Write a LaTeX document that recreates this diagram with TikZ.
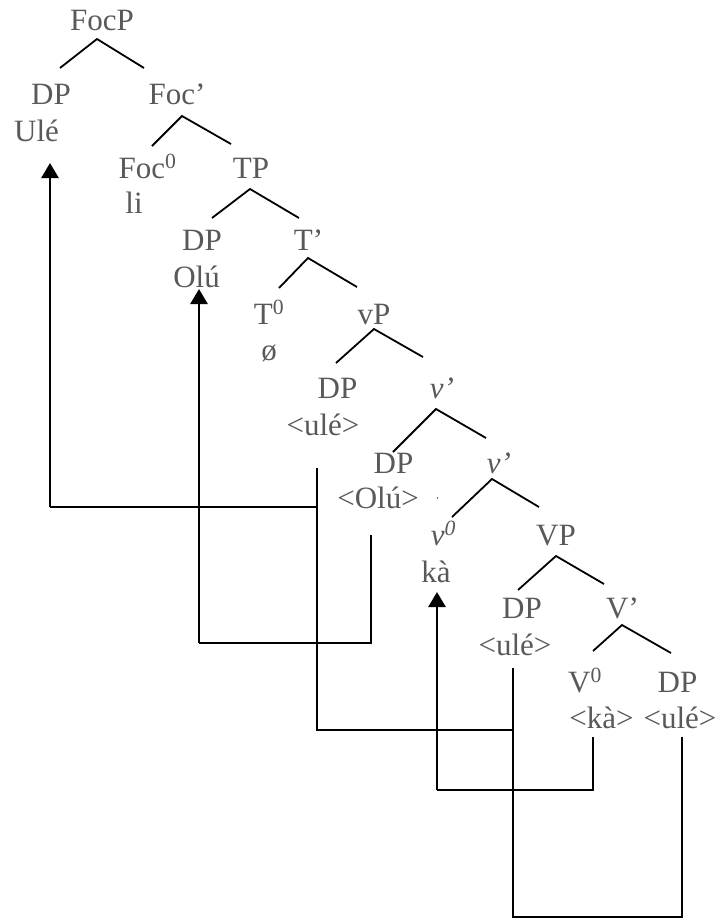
\documentclass[tikz,border=0pt]{standalone}
\usepackage{fontspec}
\setmainfont{Liberation Serif}
\usetikzlibrary{arrows.meta}
\definecolor{txtgray}{HTML}{595959}
\begin{document}
\begin{tikzpicture}[x=1pt,y=-1pt,
  lbl/.style={anchor=base,inner sep=0pt,text=txtgray,font=\fontsize{31}{36}\selectfont},
  branch/.style={draw=black,line width=1.8pt},
  chain/.style={draw=black,line width=1.9pt},
  movearrow/.style={draw=black,line width=2.6pt,-{Triangle[width=17pt,length=15pt]}}]
\useasboundingbox (0,0) rectangle (719,919);
% labels
\node[lbl] (FocP) at (102,30) {FocP};
\node[lbl] (DPa) at (51,104) {DP};
\node[lbl] (Ule) at (36.5,141) {Ulé};
\node[lbl] (Focbar) at (177,104) {Foc’};
\node[lbl] (Foczero) at (147.5,178) {Foc\textsuperscript{0}};
\node[lbl] (li) at (134,213) {li};
\node[lbl] (TP) at (251,178) {TP};
\node[lbl] (DPb) at (202,250) {DP};
\node[lbl] (Olu) at (196.5,287) {Olú};
\node[lbl] (Tbar) at (308.5,250) {T’};
\node[lbl] (Tzero) at (269,324) {T\textsuperscript{0}};
\node[lbl] (null) at (269,360) {ø};
\node[lbl] (vP) at (374,324) {vP};
\node[lbl] (DPc) at (337.5,398) {DP};
\node[lbl] (uleA) at (323,435) {<ulé>};
\node[lbl] (vbarA) at (442,398) {\textit{v’}};
\node[lbl] (DPd) at (393.5,473) {DP};
\node[lbl] (OluB) at (378,508) {<Olú>};
\node[lbl] (vbarB) at (499,473) {\textit{v’}};
\node[lbl] (vzero) at (443.5,545) {\textit{v}\textsuperscript{\textit{0}}};
\node[lbl] (ka) at (436,582) {kà};
\node[lbl] (VP) at (556,545) {VP};
\node[lbl] (DPe) at (522,618) {DP};
\node[lbl] (uleB) at (515,655) {<ulé>};
\node[lbl] (Vbar) at (622.5,618) {V’};
\node[lbl] (Vzero) at (585,692) {V\textsuperscript{0}};
\node[lbl] (DPf) at (677.5,692) {DP};
\node[lbl] (kaB) at (601.5,728) {<kà>};
\node[lbl] (uleC) at (680,728) {<ulé>};
% branch end points
\coordinate (FocP-t) at (97,39);   \coordinate (FocP-l) at (60,68);   \coordinate (FocP-r) at (144,68);
\coordinate (Focbar-t) at (182,116); \coordinate (Focbar-l) at (152,146); \coordinate (Focbar-r) at (231,144);
\coordinate (TP-t) at (250,189);   \coordinate (TP-l) at (212,218);   \coordinate (TP-r) at (299,218);
\coordinate (Tbar-t) at (308,258); \coordinate (Tbar-l) at (279,288); \coordinate (Tbar-r) at (357,287);
\coordinate (vP-t) at (374,329);   \coordinate (vP-l) at (336,363);   \coordinate (vP-r) at (423,357);
\coordinate (vbarA-t) at (436,409); \coordinate (vbarA-l) at (393,452); \coordinate (vbarA-r) at (486,438);
\coordinate (vbarB-t) at (492,479); \coordinate (vbarB-l) at (452,517); \coordinate (vbarB-r) at (539,507);
\coordinate (VP-t) at (556,556);   \coordinate (VP-l) at (518,590);   \coordinate (VP-r) at (604,584);
\coordinate (Vbar-t) at (622,625); \coordinate (Vbar-l) at (593,651); \coordinate (Vbar-r) at (671,653);
\foreach \n in {FocP,Focbar,TP,Tbar,vP,vbarA,vbarB,VP,Vbar}{
  \draw[branch] (\n-l) -- (\n-t) -- (\n-r);
}
% movement chain coordinates
\coordinate (uleA-d) at (317,468);
\coordinate (uleA-j) at (317,507);
\coordinate (uleA-b) at (317,730);
\coordinate (Ule-j) at (50,507);
\coordinate (Ule-u) at (50,163);
\coordinate (uleB-d) at (513,668);
\coordinate (uleB-j) at (513,730);
\coordinate (uleB-b) at (513,917);
\coordinate (uleC-d) at (682,737);
\coordinate (uleC-b) at (682,917);
\coordinate (OluB-d) at (371,535);
\coordinate (OluB-b) at (371,643);
\coordinate (Olu-j) at (199,643);
\coordinate (Olu-u) at (199,289);
\coordinate (kaB-d) at (593,737);
\coordinate (kaB-b) at (593,790);
\coordinate (ka-j) at (437,790);
\coordinate (ka-u) at (437,592);
% ulé chain
\draw[chain] (uleC-d) -- (uleC-b) -- (uleB-b) -- (uleB-d);
\draw[chain] (uleB-j) -- (uleA-b) -- (uleA-d);
\draw[chain] (uleA-j) -- (Ule-j);
\draw[movearrow] (Ule-j) -- (Ule-u);
% Olú chain
\draw[chain] (OluB-d) -- (OluB-b) -- (Olu-j);
\draw[movearrow] (Olu-j) -- (Olu-u);
% kà chain
\draw[chain] (kaB-d) -- (kaB-b) -- (ka-j);
\draw[movearrow] (ka-j) -- (ka-u);
% stray dot
\fill[txtgray] (437.5,498) circle (0.9);
\end{tikzpicture}
\end{document}
